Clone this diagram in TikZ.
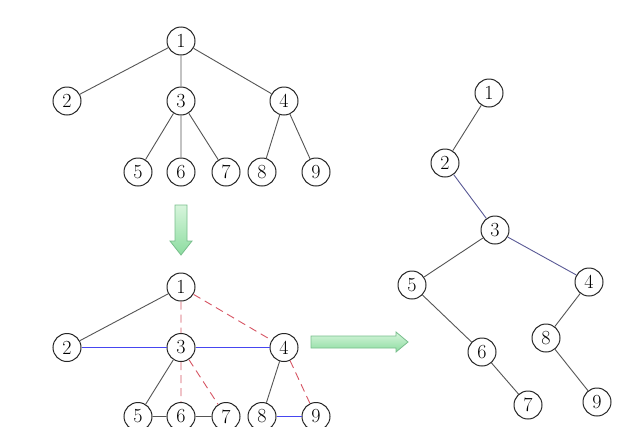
\documentclass[tikz,border=0pt]{standalone}
\usetikzlibrary{calc}
\definecolor{edgegray}{RGB}{85,85,85}
\definecolor{edgeblue}{RGB}{70,70,240}
\definecolor{edgered}{RGB}{215,85,100}
\definecolor{arrowline}{RGB}{120,190,140}
\definecolor{arrowlight}{RGB}{215,245,220}
\definecolor{arrowdark}{RGB}{140,220,160}
\definecolor{treeblue}{RGB}{90,90,150}
\begin{document}
\begin{tikzpicture}[x=1pt,y=-1pt,
  vtx/.style={circle,draw=black!85,line width=1pt,fill=white,minimum size=28pt,inner sep=0pt,font=\fontsize{20}{21}\selectfont},
  graylink/.style={draw=edgegray,line width=0.9pt},
  bluelink/.style={draw=edgeblue,line width=1.2pt},
  redlink/.style={draw=edgered,line width=0.9pt,dash pattern=on 8pt off 5pt},
  fatarrow/.style={draw=arrowline,line width=0.8pt,top color=arrowlight,bottom color=arrowdark,shading angle=#1}
]
\clip (0,0) rectangle (631,426);
\useasboundingbox (0,0) rectangle (631,426);
\fill[white] (0,0) rectangle (631,426);
% top tree
\node[vtx] (a1) at (181,41) {1};
\node[vtx] (a2) at (67,101) {2};
\node[vtx] (a3) at (181,101) {3};
\node[vtx] (a4) at (284,101) {4};
\node[vtx] (a5) at (138,172) {5};
\node[vtx] (a6) at (181,172) {6};
\node[vtx] (a7) at (226,172) {7};
\node[vtx] (a8) at (262,172) {8};
\node[vtx] (a9) at (316,172) {9};
\draw[graylink] (a1)--(a2) (a1)--(a3) (a1)--(a4) (a3)--(a5) (a3)--(a6) (a3)--(a7) (a4)--(a8) (a4)--(a9);
% down arrow
\coordinate (dtip) at (181,255);
\draw[fatarrow=0] (175,205) -- (187,205) -- (187,241) -- (192,241) -- (dtip) -- (170,241) -- (175,241) -- cycle;
% middle tree
\node[vtx] (b1) at (181,287) {1};
\node[vtx] (b2) at (67,347.5) {2};
\node[vtx] (b3) at (181,347.5) {3};
\node[vtx] (b4) at (284,347.5) {4};
\node[vtx] (b5) at (138,416.5) {5};
\node[vtx] (b6) at (181,416.5) {6};
\node[vtx] (b7) at (226,416.5) {7};
\node[vtx] (b8) at (262,416.5) {8};
\node[vtx] (b9) at (316,416.5) {9};
\draw[graylink] (b1)--(b2) (b3)--(b5) (b4)--(b8) (b5)--(b6) (b6)--(b7);
\fill[edgeblue] ($(b2.east)+(0,-0.7)$) rectangle ($(b3.west)+(0,0.7)$);
\fill[edgeblue] ($(b3.east)+(0,-0.7)$) rectangle ($(b4.west)+(0,0.7)$);
\draw[bluelink] (b8)--(b9);
\draw[redlink] (b1)--(b3) (b1)--(b4) (b3)--(b6) (b3)--(b7) (b4)--(b9);
% right arrow
\coordinate (rtip) at (408,342);
\draw[fatarrow=0] (311,336) -- (396,336) -- (396,332) -- (rtip) -- (396,352) -- (396,348) -- (311,348) -- cycle;
% binary tree
\node[vtx] (c1) at (489,93) {1};
\node[vtx] (c2) at (445,163) {2};
\node[vtx] (c3) at (495,230) {3};
\node[vtx] (c5) at (412,285) {5};
\node[vtx] (c4) at (589,282) {4};
\node[vtx] (c6) at (482,352) {6};
\node[vtx] (c8) at (546,338) {8};
\node[vtx] (c7) at (528,405) {7};
\node[vtx] (c9) at (597,402) {9};
\draw[graylink] (c1)--(c2) (c3)--(c5) (c5)--(c6) (c6)--(c7) (c4)--(c8) (c8)--(c9);
\draw[draw=treeblue,line width=0.9pt] (c2)--(c3) (c3)--(c4);
\end{tikzpicture}
\end{document}
